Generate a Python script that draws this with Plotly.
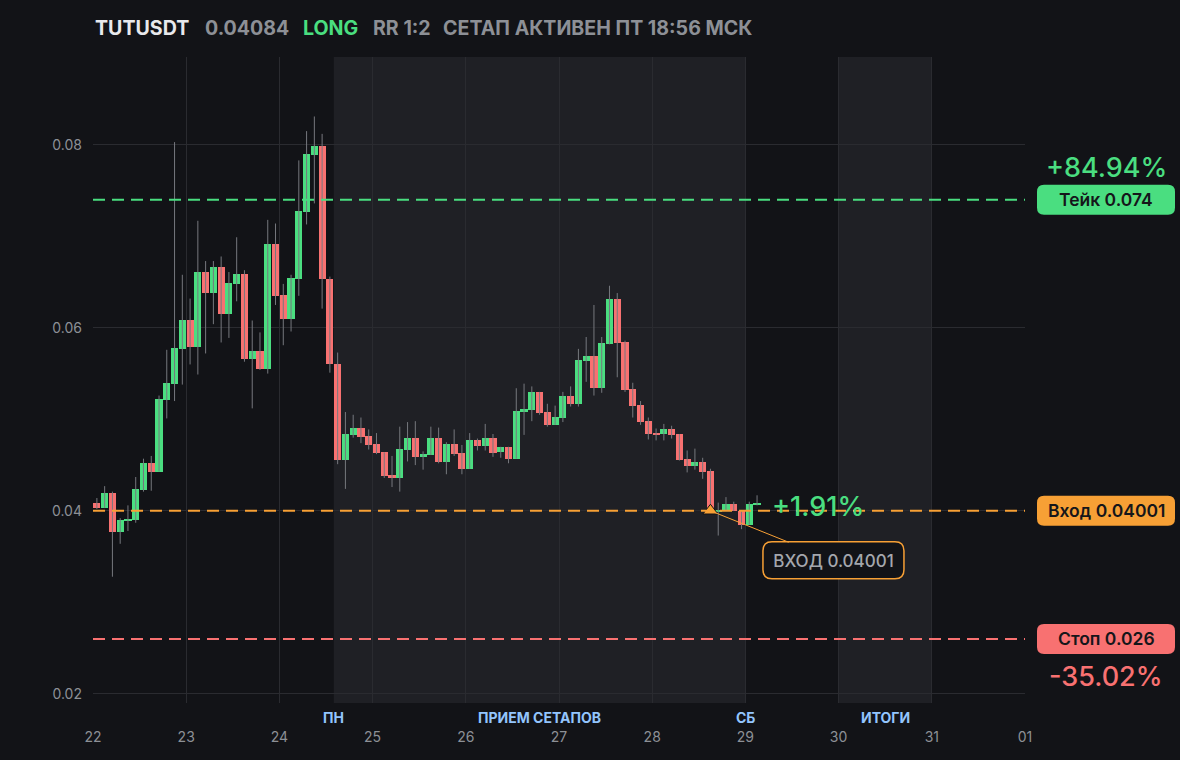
import plotly.graph_objects as go
import pandas as pd

# ---------------- data ----------------
start_time = "2025-03-22 00:00"
candle_hours = 2

opens = [0.0409, 0.0403, 0.0419, 0.0377, 0.0389, 0.0390, 0.0423, 0.0452, 0.0443, 0.0521,
         0.0539, 0.0577, 0.0609, 0.0579, 0.0661, 0.0638, 0.0667, 0.0615, 0.0648, 0.0659,
         0.0566, 0.0575, 0.0555, 0.0692, 0.0636, 0.0610, 0.0653, 0.0727, 0.0789, 0.0799,
         0.0653, 0.0561, 0.0456, 0.0483, 0.0491, 0.0482, 0.0473, 0.0464, 0.0439, 0.0436,
         0.0467, 0.0480, 0.0459, 0.0461, 0.0480, 0.0453, 0.0473, 0.0463, 0.0446, 0.0477,
         0.0471, 0.0480, 0.0464, 0.0470, 0.0457, 0.0509, 0.0510, 0.0530, 0.0508, 0.0494,
         0.0502, 0.0526, 0.0517, 0.0564, 0.0569, 0.0534, 0.0582, 0.0631, 0.0584, 0.0533,
         0.0516, 0.0498, 0.0485, 0.0484, 0.0489, 0.0484, 0.0457, 0.0449, 0.0453, 0.0444,
         0.0399, 0.0400, 0.0407, 0.0400, 0.0385, 0.0406]
highs = [0.0414, 0.0427, 0.0421, 0.0392, 0.0406, 0.0437, 0.0457, 0.0460, 0.0526, 0.0576,
         0.0803, 0.0658, 0.0632, 0.0717, 0.0673, 0.0673, 0.0678, 0.0661, 0.0699, 0.0663,
         0.0608, 0.0595, 0.0718, 0.0714, 0.0648, 0.0658, 0.0783, 0.0815, 0.0831, 0.0812,
         0.0656, 0.0573, 0.0508, 0.0505, 0.0502, 0.0489, 0.0485, 0.0464, 0.0460, 0.0492,
         0.0497, 0.0498, 0.0465, 0.0492, 0.0491, 0.0475, 0.0489, 0.0472, 0.0485, 0.0479,
         0.0495, 0.0484, 0.0470, 0.0470, 0.0534, 0.0539, 0.0536, 0.0530, 0.0517, 0.0515,
         0.0530, 0.0536, 0.0577, 0.0590, 0.0625, 0.0590, 0.0646, 0.0638, 0.0586, 0.0540,
         0.0520, 0.0502, 0.0490, 0.0495, 0.0493, 0.0484, 0.0466, 0.0468, 0.0458, 0.0446,
         0.0409, 0.0415, 0.0410, 0.0400, 0.0410, 0.0417]
lows = [0.0402, 0.0403, 0.0328, 0.0364, 0.0378, 0.0387, 0.0421, 0.0422, 0.0443, 0.0501,
        0.0520, 0.0538, 0.0560, 0.0549, 0.0572, 0.0604, 0.0584, 0.0589, 0.0629, 0.0563,
        0.0512, 0.0554, 0.0550, 0.0625, 0.0581, 0.0596, 0.0635, 0.0713, 0.0736, 0.0621,
        0.0551, 0.0451, 0.0424, 0.0480, 0.0474, 0.0467, 0.0462, 0.0436, 0.0426, 0.0421,
        0.0454, 0.0450, 0.0445, 0.0461, 0.0452, 0.0440, 0.0460, 0.0440, 0.0446, 0.0466,
        0.0466, 0.0459, 0.0458, 0.0452, 0.0457, 0.0483, 0.0498, 0.0505, 0.0492, 0.0494,
        0.0497, 0.0514, 0.0514, 0.0541, 0.0526, 0.0529, 0.0582, 0.0546, 0.0530, 0.0502,
        0.0494, 0.0478, 0.0477, 0.0477, 0.0479, 0.0455, 0.0442, 0.0445, 0.0435, 0.0399,
        0.0373, 0.0400, 0.0400, 0.0380, 0.0385, 0.0406]
closes = [0.0403, 0.0419, 0.0377, 0.0390, 0.0391, 0.0424, 0.0452, 0.0443, 0.0522, 0.0540,
          0.0578, 0.0609, 0.0579, 0.0661, 0.0638, 0.0667, 0.0615, 0.0649, 0.0659, 0.0566,
          0.0575, 0.0555, 0.0692, 0.0635, 0.0610, 0.0654, 0.0728, 0.0790, 0.0799, 0.0653,
          0.0561, 0.0456, 0.0484, 0.0491, 0.0481, 0.0472, 0.0463, 0.0438, 0.0436, 0.0468,
          0.0480, 0.0459, 0.0462, 0.0480, 0.0453, 0.0473, 0.0462, 0.0446, 0.0477, 0.0471,
          0.0480, 0.0463, 0.0470, 0.0457, 0.0509, 0.0511, 0.0530, 0.0507, 0.0494, 0.0503,
          0.0526, 0.0517, 0.0565, 0.0569, 0.0534, 0.0583, 0.0631, 0.0583, 0.0532, 0.0515,
          0.0497, 0.0484, 0.0483, 0.0489, 0.0483, 0.0456, 0.0449, 0.0453, 0.0443, 0.0399,
          0.0401, 0.0407, 0.0400, 0.0385, 0.0407, 0.04084]

symbol = "TUTUSDT"
last_price = "0.04084"
side = "LONG"
rr_text = "RR 1:2"
status_text = "СЕТАП АКТИВЕН ПТ 18:56 МСК"

take_price = 0.074
entry_price = 0.04001
stop_price = 0.026
take_pct = "+84.94%"
stop_pct = "-35.02%"
live_pct = "+1.91%"
entry_candle = 79

zones = [("2025-03-24 14:00", "2025-03-29 00:00"), ("2025-03-30 00:00", "2025-03-31 00:00")]
zone_labels = [("ПН", "2025-03-24 14:00"), ("ПРИЕМ СЕТАПОВ", "2025-03-26 19:00"),
               ("СБ", "2025-03-29 00:00"), ("ИТОГИ", "2025-03-30 12:00")]

x_range = ["2025-03-22 00:00", "2025-04-01 00:00"]
y_ticks = [0.02, 0.04, 0.06, 0.08]
y_range = [0.0190, 0.0896]

# ---------------- style ----------------
BG = "#121317"
ZONE = "#1f2025"
GRID = "#2a2b30"
GREEN = "#4ade80"
RED = "#f87171"
ORANGE = "#f7a035"
GRAY = "#8d9096"
WICK = "#76787e"
FONT = "Inter"

W, H = 1180, 760
ML, MR, MT, MB = 93, 155, 57, 57
PW, PH = W - ML - MR, H - MT - MB


def px(x):
    return (x - ML) / PW


def py(y):
    return (H - MB - y) / PH


def rrect(w, h, r, dx=0.0, dy=0.0):
    a, b = w / 2, h / 2
    pts = [(-a + r, -b), (a - r, -b), (a, -b), (a, -b + r), (a, b - r), (a, b), (a - r, b),
           (-a + r, b), (-a, b), (-a, b - r), (-a, -b + r), (-a, -b), (-a + r, -b)]
    p = [f"{x + dx:.2f},{y + dy:.2f}" for x, y in pts]
    return (f"M {p[0]} L {p[1]} Q {p[2]} {p[3]} L {p[4]} Q {p[5]} {p[6]} L {p[7]} "
            f"Q {p[8]} {p[9]} L {p[10]} Q {p[11]} {p[12]} Z")


times = pd.date_range(start_time, periods=len(opens), freq=f"{candle_hours}h")
centers = times + pd.Timedelta(hours=candle_hours / 2)

wx, wy = [], []
for t, h, l in zip(centers, highs, lows):
    wx += [t, t, None]
    wy += [l, h, None]

bases = [min(o, c) for o, c in zip(opens, closes)]
heights = [max(abs(c - o), 0.00018) for o, c in zip(opens, closes)]
colors = [GREEN if c >= o else RED for o, c in zip(opens, closes)]

fig = go.Figure()
fig.add_trace(go.Scatter(x=wx, y=wy, mode="lines", line=dict(color=WICK, width=1),
                         hoverinfo="skip", showlegend=False))
fig.add_trace(go.Bar(x=centers, y=heights, base=bases, marker=dict(color=colors, line=dict(width=0)),
                     width=candle_hours * 3600 * 1000 * 0.92, showlegend=False, hoverinfo="skip"))
fig.add_trace(go.Scatter(x=[centers[entry_candle]], y=[entry_price], mode="markers",
                         marker=dict(symbol="triangle-up", size=13, color=ORANGE,
                                     line=dict(color=BG, width=1)),
                         showlegend=False, hoverinfo="skip"))

shapes = []
for z0, z1 in zones:
    shapes.append(dict(type="rect", xref="x", yref="paper", x0=z0, x1=z1, y0=0, y1=1,
                       fillcolor=ZONE, line=dict(width=0), layer="between"))
for price, col in [(take_price, GREEN), (entry_price, ORANGE), (stop_price, RED)]:
    shapes.append(dict(type="line", xref="paper", yref="y", x0=0, x1=1, y0=price, y1=price,
                       line=dict(color=col, width=2, dash="12px,7px"), layer="above"))
box_cx = px(1106)
for price, col in [(take_price, GREEN), (entry_price, ORANGE), (stop_price, RED)]:
    shapes.append(dict(type="path", xref="paper", yref="y", xsizemode="pixel", ysizemode="pixel",
                       xanchor=box_cx, yanchor=price, path=rrect(138, 30, 7),
                       fillcolor=col, line=dict(width=0), layer="above"))
shapes.append(dict(type="path", xref="x", yref="y", xsizemode="pixel", ysizemode="pixel",
                   xanchor=centers[entry_candle], yanchor=entry_price,
                   path=rrect(141, 37, 9, 123, -49.5),
                   fillcolor=BG, line=dict(color=ORANGE, width=1.5), layer="above"))

annotations = []
title_items = [(symbol, "#e8e9ec", 93), (last_price, GRAY, 203), (side, GREEN, 301),
               (rr_text, GRAY, 371), (status_text, GRAY, 441)]
for txt, col, xx in title_items:
    annotations.append(dict(text=f"<b>{txt}</b>", xref="paper", yref="paper", x=px(xx), y=py(28.5),
                            xanchor="left", yanchor="middle", showarrow=False,
                            font=dict(family=FONT, size=19.6, color=col)))
for txt, xx in zone_labels:
    annotations.append(dict(text=f"<b>{txt}</b>", xref="x", yref="paper", x=xx, y=py(717),
                            xanchor="center", yanchor="middle", showarrow=False,
                            font=dict(family=FONT, size=14, color="#93c5fd")))
box_texts = [(take_price, f"Тейк {take_price:g}"), (entry_price, f"Вход {entry_price:.5f}"),
             (stop_price, f"Стоп {stop_price:g}")]
for price, txt in box_texts:
    annotations.append(dict(text=txt, xref="paper", yref="y", x=box_cx, y=price,
                            xanchor="center", yanchor="middle", showarrow=False,
                            font=dict(family=FONT, size=17.5, color="#15161a", weight=600)))
annotations.append(dict(text=take_pct, xref="paper", yref="y", x=box_cx, y=take_price, yshift=32,
                        xanchor="center", yanchor="middle", showarrow=False,
                        font=dict(family=FONT, size=27, color=GREEN, weight=500)))
annotations.append(dict(text=stop_pct, xref="paper", yref="y", x=box_cx, y=stop_price, yshift=-38,
                        xanchor="center", yanchor="middle", showarrow=False,
                        font=dict(family=FONT, size=27, color=RED, weight=500)))
annotations.append(dict(text=live_pct, xref="x", yref="y", x=centers[-1], y=closes[-1],
                        xshift=13, yshift=-3, xanchor="left", yanchor="middle", showarrow=False,
                        font=dict(family=FONT, size=27, color=GREEN, weight=500)))
annotations.append(dict(text=f"ВХОД {entry_price:.5f}", xref="x", yref="y",
                        x=centers[entry_candle], y=entry_price, ax=123, ay=49.5,
                        showarrow=True, arrowhead=0, arrowwidth=1, arrowcolor=ORANGE, standoff=0,
                        width=131, height=27, borderpad=4, borderwidth=1,
                        bordercolor="rgba(0,0,0,0)", bgcolor="rgba(0,0,0,0)",
                        font=dict(family=FONT, size=17, color="#a4a7ad", weight=500)))

fig.update_layout(
    width=W, height=H,
    margin=dict(l=ML, r=MR, t=MT, b=MB),
    paper_bgcolor=BG, plot_bgcolor=BG,
    showlegend=False, hovermode=False, bargap=0,
    font=dict(family=FONT, color=GRAY, size=14),
    shapes=shapes, annotations=annotations,
    xaxis=dict(type="date", range=x_range, tickformat="%d", dtick=86400000, tick0=x_range[0],
               showgrid=True, gridcolor=GRID, gridwidth=1, zeroline=False, showline=False,
               ticks="", ticklabelstandoff=24, tickfont=dict(family=FONT, size=14, color=GRAY),
               fixedrange=True),
    yaxis=dict(range=y_range, tickvals=y_ticks, ticktext=[f"{v:.2f}" for v in y_ticks],
               showgrid=True, gridcolor=GRID, gridwidth=1, zeroline=False, showline=False,
               ticks="", ticklabelstandoff=10, tickfont=dict(family=FONT, size=14, color=GRAY),
               fixedrange=True),
)

fig.write_html("out.html", config={"displayModeBar": False},
               post_script="document.body.style.margin='0';document.body.style.background='#121317';")
